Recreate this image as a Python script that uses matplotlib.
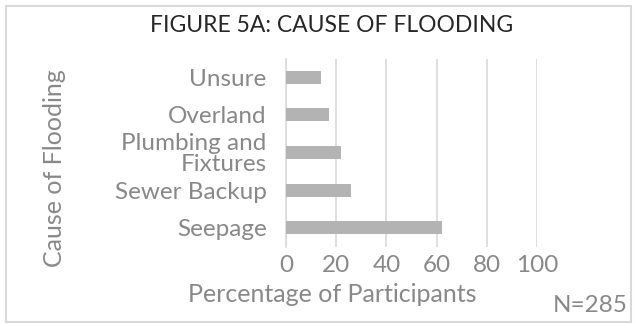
import matplotlib
matplotlib.use("Agg")
import matplotlib.pyplot as plt
from matplotlib.patches import Rectangle

# causes of flooding, bottom to top as drawn
causes = ["Seepage", "Sewer Backup", "Plumbing and\nFixtures", "Overland", "Unsure"]
percent = [62, 26, 22, 17, 14]
xticks = [0, 20, 40, 60, 80, 100]

W, H = 636, 324
plt.rcParams["font.family"] = ["Lato", "DejaVu Sans"]
txt = "#888888"
grid = "#d9d9d9"

fig = plt.figure(figsize=(W / 100, H / 100), dpi=100)
fig.patch.set_facecolor("white")

# outer frame
fig.patches.append(Rectangle((6 / W, 2 / H), 625 / W, 316 / H, transform=fig.transFigure,
                             fill=False, edgecolor=grid, linewidth=1.5))

ax = fig.add_axes([286 / W, 1 - 246.5 / H, 251 / W, 188 / H])
ypos = list(range(len(causes)))
ax.barh(ypos, percent, height=0.35, color="#b3b3b3", zorder=3)
ax.set_xlim(0, 100)
ax.set_ylim(-0.5, len(causes) - 0.5)
ax.set_xticks(xticks)
ax.set_xticklabels([str(t) for t in xticks])
ax.set_yticks(ypos)
ax.set_yticklabels(causes, multialignment="right", linespacing=0.95)
ax.xaxis.grid(True, color=grid, linewidth=1.2, zorder=0)
for s in ["top", "right", "bottom"]:
    ax.spines[s].set_visible(False)
ax.spines["left"].set_color(grid)
ax.spines["left"].set_linewidth(1.2)
ax.tick_params(axis="both", length=0, labelsize=17.5, colors=txt, labelcolor=txt)
ax.tick_params(axis="y", pad=14)
ax.tick_params(axis="x", pad=6)

fig.text(332 / W, 1 - 26 / H, "FIGURE 5A: CAUSE OF FLOODING", ha="center", va="center",
         fontsize=16.5, color="#262626")
fig.text(55 / W, 1 - 168 / H, "Cause of Flooding", rotation=90, ha="center", va="center",
         fontsize=18, color=txt)
fig.text(332 / W, 1 - 294 / H, "Percentage of Participants", ha="center", va="center",
         fontsize=18, color=txt)
fig.text(628 / W, 1 - 305 / H, "N=285", ha="right", va="center", fontsize=17.5, color=txt)

fig.savefig("out.png", dpi=100)
